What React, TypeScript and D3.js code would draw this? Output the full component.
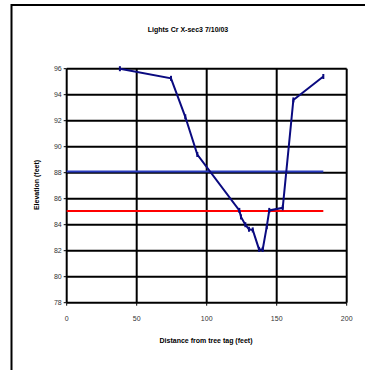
import React from "react";
import * as d3 from "d3";

const title = "Lights Cr X-sec3 7/10/03";
const xLabel = "Distance from tree tag (feet)";
const yLabel = "Elevation (feet)";
const xTicks = [0, 50, 100, 150, 200];
const yTicks = [78, 80, 82, 84, 86, 88, 90, 92, 94, 96];

const distance = [38, 74.5, 84.7, 93.3, 123.3, 124.5, 127.6, 130.2, 132.9, 137.4, 140, 142.9, 144.7, 154.3, 161.9, 183.3];
const elevation = [96.0, 95.26, 92.3, 89.4, 85.1, 84.6, 84.0, 83.65, 83.6, 82.1, 82.1, 83.85, 85.1, 85.3, 93.6, 95.4];

const bankfullX = [0, 183.3];
const bankfullY = [88.1, 88.1];
const waterX = [0, 183.3];
const waterY = [85.05, 85.05];

export default function App() {
  const W = 365, H = 370;
  const x = d3.scaleLinear().domain([0, 200]).range([66.7, 346.7]);
  const y = d3.scaleLinear().domain([78, 96]).range([302.7, 68.7]);
  const line = d3.line<number>().x((_, i) => x(distance[i])).y((d) => y(d));
  const lineB = d3.line<number>().x((_, i) => x(bankfullX[i])).y((d) => y(d));
  const lineW = d3.line<number>().x((_, i) => x(waterX[i])).y((d) => y(d));
  const font = "Arial, 'Liberation Sans', sans-serif";
  return (
    <svg width={W} height={H} style={{ position: "absolute", left: 0, top: 0, background: "#fff" }}>
      <rect x={11.5} y={5} width={400} height={400} fill="#fff" stroke="#000" strokeWidth={2} />
      <text x={188} y={32} textAnchor="middle" fontFamily={font} fontSize={7} fontWeight="bold">{title}</text>
      {yTicks.map((t) => (
        <g key={"y" + t}>
          <line x1={x(0)} x2={x(200)} y1={y(t)} y2={y(t)} stroke="#000" strokeWidth={2} />
          <line x1={x(0) - 3} x2={x(0)} y1={y(t)} y2={y(t)} stroke="#000" strokeWidth={1} />
          <text x={x(0) - 5} y={y(t) + 2.5} textAnchor="end" fontFamily={font} fontSize={7} fill="#333">{t}</text>
        </g>
      ))}
      {xTicks.map((t) => (
        <g key={"x" + t}>
          <line x1={x(t)} x2={x(t)} y1={y(96)} y2={y(78)} stroke="#000" strokeWidth={2} />
          <line x1={x(t)} x2={x(t)} y1={y(78)} y2={y(78) + 3} stroke="#000" strokeWidth={1} />
          <text x={x(t)} y={321} textAnchor="middle" fontFamily={font} fontSize={7} fill="#333">{t}</text>
        </g>
      ))}
      <path d={lineB(bankfullY) || ""} fill="none" stroke="#2a3cc0" strokeWidth={2} />
      <path d={lineW(waterY) || ""} fill="none" stroke="#ff0000" strokeWidth={2} />
      <path d={line(elevation) || ""} fill="none" stroke="#0a0a80" strokeWidth={2} />
      {elevation.map((e, i) => (
        <rect key={i} x={x(distance[i]) - 1} y={y(e) - 2.5} width={2} height={5} fill="#0a0a80" />
      ))}
      <text x={206} y={343} textAnchor="middle" fontFamily={font} fontSize={7} fontWeight="bold">{xLabel}</text>
      <text transform={`translate(39,${185}) rotate(-90)`} textAnchor="middle" fontFamily={font} fontSize={7} fontWeight="bold">{yLabel}</text>
    </svg>
  );
}
